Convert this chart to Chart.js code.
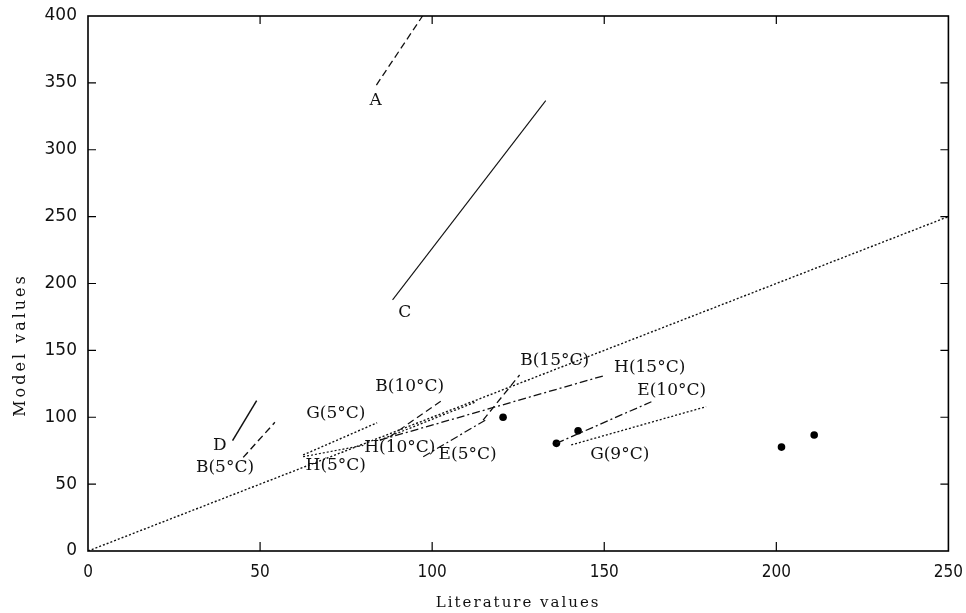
<!DOCTYPE html>
<html>
<head>
<meta charset="utf-8">
<script src="https://cdn.jsdelivr.net/npm/chart.js@4"></script>
<style>
  html, body { margin: 0; padding: 0; background: #fff; }
  #wrap { width: 966px; height: 613px; }
</style>
</head>
<body>
<div id="wrap"><canvas id="chart"></canvas></div>
<script>
// axis ticks
const xTicks = [0, 50, 100, 150, 200, 250];
const yTicks = [0, 50, 100, 150, 200, 250, 300, 350, 400];

// line segments [literature, model]
const identity = [[0, 0], [250, 250]];
const lineA = [[83.8, 348.4], [97.2, 400]];
const lineC = [[88.5, 187.7], [133, 336.7]];
const lineD = [[42.0, 82.5], [49.0, 112.4]];
const lineB5 = [[45.1, 70.0], [54.3, 96.2]];
const lineG5 = [[62.5, 71.8], [84.0, 95.9]];
const lineH5 = [[62.5, 70.5], [80.0, 79.0]];
const lineB10 = [[87.7, 85.5], [103.2, 113.2]];
const lineH10 = [[84.8, 82.9], [112.8, 111.6]];
const lineH15 = [[84.8, 82.9], [150.1, 131.2]];
const lineB15 = [[114.8, 97.9], [125.4, 131.6]];
const lineE5 = [[97.4, 70.5], [115.8, 98.4]];
const lineE10 = [[136.1, 80.5], [163.7, 111.6]];
const lineG9 = [[140.4, 79.3], [179.6, 107.9]];

// single measured points
const dotX = [120.6, 136.1, 142.4, 201.5, 211.0];
const dotY = [100.0, 80.5, 89.9, 77.7, 86.7];

// text labels next to the lines
const labelText = ["A", "C", "D", "B(5°C)", "G(5°C)", "H(5°C)", "B(10°C)", "H(10°C)", "E(5°C)", "B(15°C)", "H(15°C)", "E(10°C)", "G(9°C)"];
const labelX = [83.6, 92.0, 38.3, 39.8, 72.0, 72.0, 93.5, 90.6, 110.3, 135.6, 163.2, 169.6, 154.5];
const labelY = [336.4, 178.0, 78.5, 62.0, 103.0, 63.5, 122.6, 77.0, 71.8, 142.0, 136.8, 119.6, 71.8];

const DOT = [2, 2];
const DASH = [7, 4];
const DASHDOT = [8, 3, 2, 3];
const SOLID = [];

function pts(arr) {
  return arr.map(p => ({ x: p[0], y: p[1] }));
}

function seg(arr, dash, width) {
  return {
    data: pts(arr),
    showLine: true,
    borderColor: "#111",
    borderWidth: width || 1.2,
    borderDash: dash,
    pointRadius: 0,
    fill: false
  };
}

const datasets = [
  seg(identity, DOT, 1.4),
  seg(lineA, DASH, 1.3),
  seg(lineC, SOLID, 1.1),
  seg(lineD, SOLID, 1.5),
  seg(lineB5, DASH, 1.4),
  seg(lineG5, DOT, 1.4),
  seg(lineH5, DOT, 1.2),
  seg(lineB10, DASH, 1.2),
  seg(lineH10, DOT, 1.3),
  seg(lineH15, DASHDOT, 1.3),
  seg(lineB15, DASH, 1.3),
  seg(lineE5, DASHDOT, 1.2),
  seg(lineE10, DASHDOT, 1.3),
  seg(lineG9, DOT, 1.3),
  {
    data: dotX.map((x, i) => ({ x: x, y: dotY[i] })),
    showLine: false,
    pointRadius: 3.8,
    pointBackgroundColor: "#000",
    pointBorderWidth: 0
  }
];

// frame, inner ticks, labels and axis titles
const extras = {
  id: "extras",
  afterDraw(chart) {
    const ctx = chart.ctx;
    const a = chart.chartArea;
    const xs = chart.scales.x, ys = chart.scales.y;
    ctx.save();
    ctx.strokeStyle = "#000";
    ctx.lineWidth = 1.6;
    ctx.strokeRect(a.left, a.top, a.right - a.left, a.bottom - a.top);

    ctx.lineWidth = 1.2;
    ctx.beginPath();
    xTicks.slice(1, -1).forEach(v => {
      const px = xs.getPixelForValue(v);
      ctx.moveTo(px, a.bottom); ctx.lineTo(px, a.bottom - 9);
      ctx.moveTo(px, a.top); ctx.lineTo(px, a.top + 8);
    });
    yTicks.slice(1, -1).forEach(v => {
      const py = ys.getPixelForValue(v);
      ctx.moveTo(a.left, py); ctx.lineTo(a.left + 8, py);
      ctx.moveTo(a.right, py); ctx.lineTo(a.right - 8, py);
    });
    ctx.stroke();

    ctx.fillStyle = "#111";
    ctx.font = "17px 'DejaVu Serif'";
    ctx.textAlign = "center";
    ctx.textBaseline = "middle";
    labelText.forEach((t, i) => {
      ctx.fillText(t, xs.getPixelForValue(labelX[i]), ys.getPixelForValue(labelY[i]));
    });

    ctx.font = "15px 'DejaVu Serif'";
    ctx.letterSpacing = "2px";
    ctx.fillText("Literature values", (a.left + a.right) / 2, 603);
    ctx.font = "16px 'DejaVu Serif'";
    ctx.letterSpacing = "3px";
    ctx.translate(21, 345);
    ctx.rotate(-Math.PI / 2);
    ctx.fillText("Model values", 0, 0);
    ctx.restore();
  }
};

new Chart(document.getElementById("chart"), {
  type: "scatter",
  data: { datasets: datasets },
  options: {
    responsive: true,
    maintainAspectRatio: false,
    animation: false,
    layout: { padding: { top: 16, right: 10, left: 0, bottom: 0 } },
    plugins: { legend: { display: false }, tooltip: { enabled: false } },
    scales: {
      x: {
        type: "linear",
        min: 0,
        max: 250,
        afterFit: s => { s.height = 62; },
        afterBuildTicks: s => { s.ticks = xTicks.map(v => ({ value: v })); },
        grid: { display: false },
        border: { display: false },
        ticks: { color: "#111", padding: 3, font: { family: "'DejaVu Sans Condensed', 'Liberation Sans Narrow', sans-serif", size: 17 } }
      },
      y: {
        type: "linear",
        min: 0,
        max: 400,
        afterFit: s => { s.width = 88; },
        afterBuildTicks: s => { s.ticks = yTicks.map(v => ({ value: v })); },
        grid: { display: false },
        border: { display: false },
        ticks: { color: "#111", padding: 3, font: { family: "'DejaVu Sans', sans-serif", size: 17 } }
      }
    }
  },
  plugins: [extras]
});
</script>
</body>
</html>
